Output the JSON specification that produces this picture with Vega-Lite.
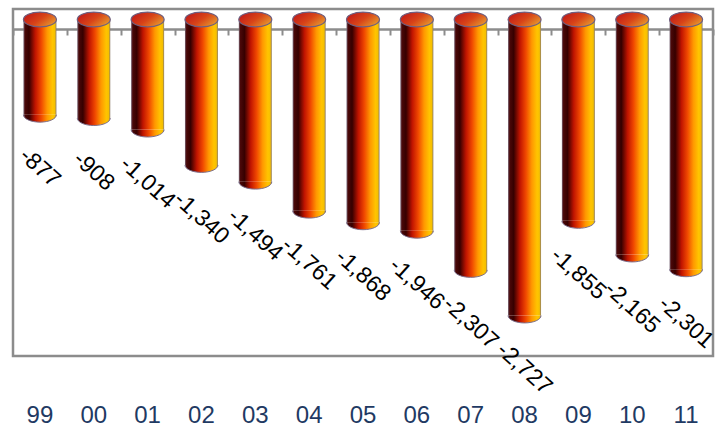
{
  "$schema": "https://vega.github.io/schema/vega-lite/v6.json",
  "width": 700,
  "height": 347,
  "autosize": {"type": "none"},
  "padding": {"left": 13, "top": 9, "right": 14, "bottom": 73},
  "background": "white",
  "config": {
    "view": {"stroke": "#8c8c8c", "strokeWidth": 2.5},
    "locale": {"number": {"decimal": ".", "thousands": ",", "grouping": [3], "currency": ["$", ""], "minus": "-"}}
  },
  "data": {
    "values": [
      {"year": "99", "value": -877},
      {"year": "00", "value": -908},
      {"year": "01", "value": -1014},
      {"year": "02", "value": -1340},
      {"year": "03", "value": -1494},
      {"year": "04", "value": -1761},
      {"year": "05", "value": -1868},
      {"year": "06", "value": -1946},
      {"year": "07", "value": -2307},
      {"year": "08", "value": -2727},
      {"year": "09", "value": -1855},
      {"year": "10", "value": -2165},
      {"year": "11", "value": -2301}
    ]
  },
  "resolve": {"axis": {"x": "independent"}},
  "layer": [
    {
      "mark": {
        "type": "bar",
        "width": 33,
        "fill": {
          "gradient": "linear", "x1": 0, "y1": 0, "x2": 1, "y2": 0,
          "stops": [
            {"offset": 0, "color": "#7a6878"},
            {"offset": 0.05, "color": "#4a0808"},
            {"offset": 0.17, "color": "#360000"},
            {"offset": 0.36, "color": "#c01400"},
            {"offset": 0.54, "color": "#f04800"},
            {"offset": 0.72, "color": "#ff9800"},
            {"offset": 0.88, "color": "#ffc400"},
            {"offset": 0.95, "color": "#f6c000"},
            {"offset": 1, "color": "#8a7a6a"}
          ]
        }
      },
      "encoding": {
        "x": {
          "field": "year", "type": "nominal", "sort": null,
          "scale": {"paddingInner": 0, "paddingOuter": 0},
          "axis": {
            "orient": "top", "offset": -20, "labels": false, "title": null,
            "domainColor": "#8c8c8c", "domainWidth": 2.5,
            "ticks": true, "tickBand": "extent", "tickSize": -6,
            "tickColor": "#8c8c8c", "tickWidth": 2
          }
        },
        "y": {
          "field": "value", "type": "quantitative",
          "scale": {"domain": [-3100, 97], "nice": false, "zero": false},
          "axis": null
        },
        "y2": {"datum": 0}
      }
    },
    {
      "mark": {
        "type": "point",
        "filled": true,
        "size": 1089,
        "shape": "M-1,0C-1,0.2485,-0.5523,0.45,0,0.45C0.5523,0.45,1,0.2485,1,0",
        "fill": {
          "gradient": "linear", "x1": 0, "y1": 0, "x2": 1, "y2": 0,
          "stops": [
            {"offset": 0, "color": "#7a6878"},
            {"offset": 0.05, "color": "#4a0808"},
            {"offset": 0.17, "color": "#360000"},
            {"offset": 0.36, "color": "#c01400"},
            {"offset": 0.54, "color": "#f04800"},
            {"offset": 0.72, "color": "#ff9800"},
            {"offset": 0.88, "color": "#ffc400"},
            {"offset": 0.95, "color": "#f6c000"},
            {"offset": 1, "color": "#8a7a6a"}
          ]
        },
        "stroke": "#7d6f8c",
        "strokeWidth": 1,
        "opacity": 1
      },
      "encoding": {
        "x": {
          "field": "year", "type": "nominal", "sort": null,
          "axis": {
            "orient": "bottom", "domain": false, "ticks": false, "tickSize": 0,
            "title": null, "labelAngle": 0, "labelBaseline": "alphabetic",
            "labelPadding": 66, "labelFont": "Liberation Sans",
            "labelFontSize": 24, "labelColor": "#1f3a63"
          }
        },
        "y": {"field": "value", "type": "quantitative"}
      }
    },
    {
      "mark": {
        "type": "point",
        "filled": true,
        "size": 1089,
        "shape": "M-1,0C-1,0.2485,-0.5523,0.45,0,0.45C0.5523,0.45,1,0.2485,1,0C1,-0.2485,0.5523,-0.45,0,-0.45C-0.5523,-0.45,-1,-0.2485,-1,0Z",
        "fill": {
          "gradient": "linear", "x1": 0, "y1": 0.2, "x2": 1, "y2": 0.8,
          "stops": [
            {"offset": 0, "color": "#c01818"},
            {"offset": 0.5, "color": "#d84418"},
            {"offset": 1, "color": "#e8a030"}
          ]
        },
        "stroke": "#6e5f80",
        "strokeWidth": 1.2,
        "opacity": 1
      },
      "encoding": {
        "x": {"field": "year", "type": "nominal", "sort": null, "axis": null},
        "y": {"datum": 0, "type": "quantitative"}
      }
    },
    {
      "mark": {
        "type": "text",
        "angle": 42,
        "align": "center",
        "baseline": "middle",
        "yOffset": 53,
        "font": "Liberation Sans",
        "fontSize": 23,
        "color": "#000000"
      },
      "encoding": {
        "x": {"field": "year", "type": "nominal", "sort": null, "axis": null},
        "y": {"field": "value", "type": "quantitative"},
        "text": {"field": "value", "type": "quantitative", "format": ","}
      }
    }
  ]
}
